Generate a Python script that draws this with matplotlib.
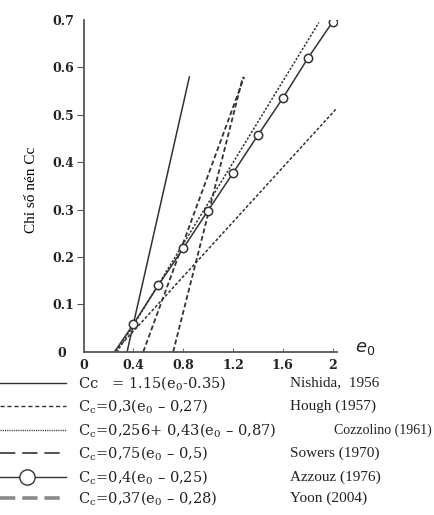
import matplotlib
matplotlib.use("Agg")
import matplotlib.pyplot as plt
import matplotlib.transforms as mtransforms
from matplotlib.lines import Line2D

plt.rcParams['font.family'] = ['Liberation Serif', 'DejaVu Serif']
plt.rcParams['lines.scale_dashes'] = False

# lines (e0, Cc)
e_nishida = [0.35, 0.85]
cc_nishida = [0.0, 0.58]
e_hough = [0.25, 2.03]
cc_hough = [0.0, 0.513]
e_cozzolino = [0.27, 1.89]
cc_cozzolino = [0.0, 0.695]
e_sowers = [0.48, 1.29]
cc_sowers = [0.0, 0.58]
e_yoon = [0.72, 1.28]
cc_yoon = [0.0, 0.58]
e_azzouz = [0.25, 0.4, 0.6, 0.8, 1.0, 1.2, 1.4, 1.6, 1.8, 2.0]
cc_azzouz = [0.0, 0.058, 0.14, 0.218, 0.298, 0.377, 0.457, 0.535, 0.619, 0.696]

x_ticks = [0, 0.4, 0.8, 1.2, 1.6, 2]
x_tick_labels = ["0", "0.4", "0.8", "1.2", "1.6", "2"]
y_ticks = [0, 0.1, 0.2, 0.3, 0.4, 0.5, 0.6, 0.7]
y_tick_labels = ["0", "0.1", "0.2", "0.3", "0.4", "0.5", "0.6", "0.7"]

equations = [
    "Cc   = 1.15(e$_0$-0.35)",
    r"C$_\mathrm{c}$=0,3(e$_0$ – 0,27)",
    r"C$_\mathrm{c}$=0,256+ 0,43(e$_0$ – 0,87)",
    r"C$_\mathrm{c}$=0,75(e$_0$ – 0,5)",
    r"C$_\mathrm{c}$=0,4(e$_0$ – 0,25)",
    r"C$_\mathrm{c}$=0,37(e$_0$ – 0,28)",
]
references = ["Nishida,  1956", "Hough (1957)", "Cozzolino (1961)",
              "Sowers (1970)", "Azzouz (1976)", "Yoon (2004)"]

ink = "#333333"

fig = plt.figure(figsize=(4.34, 5.15), dpi=100)
ax = fig.add_axes([0.1924, 0.317, 0.584, 0.644])

ax.plot(e_nishida, cc_nishida, color=ink, lw=1.1)
ax.plot(e_hough, cc_hough, color=ink, lw=1.1, linestyle=(0, (2.2, 1.4)))
ax.plot(e_cozzolino, cc_cozzolino, color=ink, lw=1.1, linestyle=(0, (1.6, 1.2)))
ax.plot(e_sowers, cc_sowers, color=ink, lw=1.3, linestyle=(0, (3.5, 2)))
ax.plot(e_yoon, cc_yoon, color=ink, lw=1.3, linestyle=(0, (3.5, 2)))
ax.plot(e_azzouz, cc_azzouz, color=ink, lw=1.1, marker='o', markersize=6,
        markerfacecolor='white', markeredgecolor=ink, markeredgewidth=1.1,
        markevery=list(range(1, len(e_azzouz))))

ax.set_xlim(0, 2.035)
ax.set_ylim(0, 0.7)
for side in ['top', 'right']:
    ax.spines[side].set_visible(False)
for side in ['left', 'bottom']:
    ax.spines[side].set_color('#555555')
    ax.spines[side].set_linewidth(1.3)

tick_font = dict(family='DejaVu Serif', fontweight='bold', fontsize=9, color='#222222')
ax.set_xticks(x_ticks)
ax.set_xticklabels(x_tick_labels, **tick_font)
ax.set_yticks(y_ticks)
ax.set_yticklabels(y_tick_labels, **tick_font)
ax.tick_params(axis='x', direction='in', length=3, color='#777777', pad=5)
ax.tick_params(axis='y', direction='out', length=5, color='#555555', pad=2)
ax.yaxis.get_major_ticks()[-1].tick1line.set_visible(False)
ax.yaxis.get_major_ticks()[0].tick1line.set_visible(False)
ax.xaxis.get_major_ticks()[0].tick1line.set_visible(False)
# the "0" on the y axis sits further left in the original
zero_lab = ax.yaxis.get_major_ticks()[0].label1
zero_lab.set_transform(zero_lab.get_transform() +
                       mtransforms.ScaledTranslation(-0.08, 0, fig.dpi_scale_trans))

ax.set_ylabel("Chỉ số nén Cc", fontsize=11)
ax.yaxis.set_label_coords(-0.18, 0.4875)
ax.text(1.07, 0.0, r"$\mathit{e_0}$", transform=ax.transAxes, fontsize=13,
        math_fontfamily='dejavusans', va='baseline', ha='left', color='#222222')

# legend rows drawn by hand below the axes
W, H = 434.0, 515.0
row_y = [383, 406, 430, 453, 477, 498]
ref_x = [290, 290, 334, 290, 290, 290]
ref_size = [11, 11, 10, 11, 11, 11]
samples = [
    dict(color=ink, lw=1.0, linestyle='-'),
    dict(color=ink, lw=1.0, linestyle=(0, (3, 2))),
    dict(color=ink, lw=1.0, linestyle=(0, (0.8, 0.8))),
    dict(color=ink, lw=1.2, linestyle=(0, (11, 5))),
    dict(color=ink, lw=1.0, linestyle='-'),
    dict(color='#8a8a8a', lw=2.6, linestyle=(0, (11, 5))),
]
for i, y in enumerate(row_y):
    fy = 1 - y / H
    fig.add_artist(Line2D([0, 66 / W], [fy, fy], transform=fig.transFigure, **samples[i]))
    if i == 4:
        fig.add_artist(Line2D([27 / W], [fy], transform=fig.transFigure, marker='o',
                              markersize=11, markerfacecolor='white',
                              markeredgecolor=ink, markeredgewidth=1.0))
    fig.text(78 / W, fy, equations[i], family='DejaVu Serif', fontsize=10.5,
             va='center', ha='left', math_fontfamily='dejavuserif', color='#222222')
    fig.text(ref_x[i] / W, fy, references[i], fontsize=ref_size[i], va='center',
             ha='left', color='#222222')

fig.savefig("out.png", dpi=100)
